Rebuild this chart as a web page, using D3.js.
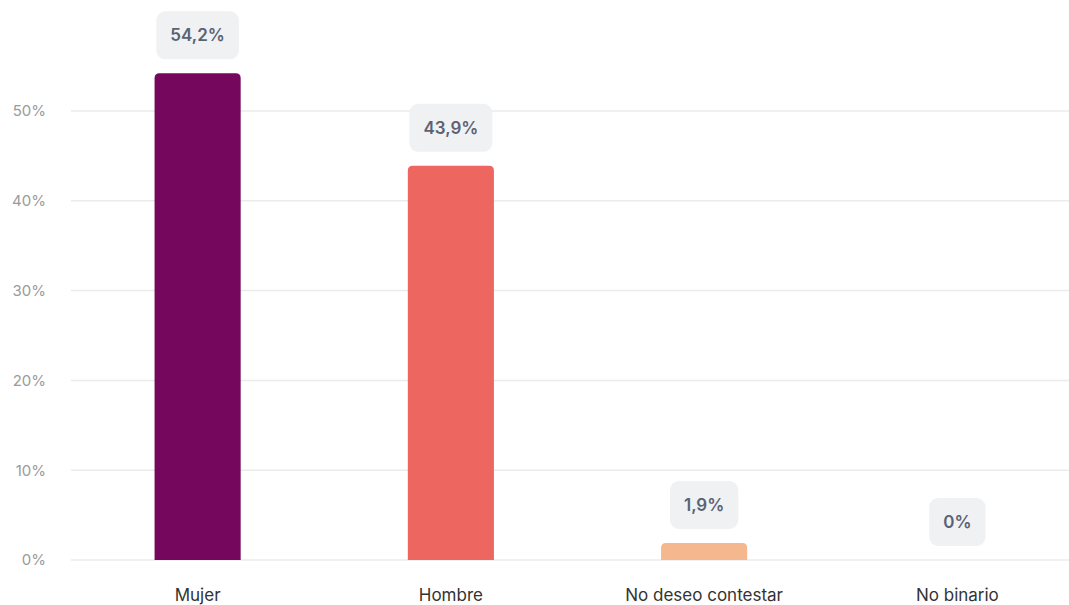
<!DOCTYPE html>
<html>
<head>
<meta charset="utf-8">
<script src="https://cdn.jsdelivr.net/npm/d3@7"></script>
<style>
  body { margin: 0; background: #fff; }
  svg { display: block; font-family: Inter, "Noto Sans", sans-serif; }
</style>
</head>
<body>
<script>
var categories = ["Mujer", "Hombre", "No deseo contestar", "No binario"];
var values = [54.2, 43.9, 1.9, 0];
var valueLabels = ["54,2%", "43,9%", "1,9%", "0%"];
var colors = ["#75085c", "#ee6660", "#f5b78e", "#dddddd"];
var yTicks = [0, 10, 20, 30, 40, 50];

var width = 1069, height = 605;
var margin = {top: 20, right: -15, bottom: 45, left: 71};

var svg = d3.select("body").append("svg")
	.attr("width", width)
	.attr("height", height);

var x = d3.scaleBand()
	.domain(categories)
	.range([margin.left, width - margin.right])
	.paddingInner(0.66)
	.paddingOuter(0.33);

var y = d3.scaleLinear()
	.domain([0, 60])
	.range([height - margin.bottom, height - margin.bottom - 60 * 8.98]);

// grid
svg.append("g")
	.selectAll("line")
	.data(yTicks)
	.enter().append("line")
	.attr("x1", margin.left)
	.attr("x2", width)
	.attr("y1", function(d) { return y(d); })
	.attr("y2", function(d) { return y(d); })
	.attr("stroke", "#ebebeb")
	.attr("stroke-width", 1.5);

var yAxis = d3.axisLeft(y)
	.tickValues(yTicks)
	.tickSize(0)
	.tickPadding(25)
	.tickFormat(function(d) { return d + "%"; });

var gy = svg.append("g")
	.attr("transform", "translate(" + margin.left + ",0)")
	.call(yAxis);
gy.select(".domain").remove();
gy.selectAll("text")
	.attr("fill", "#9a9a9a")
	.style("font-size", "15px")
	.style("font-family", "Inter, sans-serif");

// bars with rounded tops
function barPath(x0, y0, w, h, r) {
	r = Math.min(r, h, w / 2);
	return "M" + x0 + "," + (y0 + h) +
		"V" + (y0 + r) +
		"Q" + x0 + "," + y0 + " " + (x0 + r) + "," + y0 +
		"H" + (x0 + w - r) +
		"Q" + (x0 + w) + "," + y0 + " " + (x0 + w) + "," + (y0 + r) +
		"V" + (y0 + h) + "Z";
}

svg.append("g")
	.selectAll("path")
	.data(values)
	.enter().append("path")
	.filter(function(d) { return d > 0; })
	.attr("fill", function(d, i) { return colors[values.indexOf(d)]; })
	.attr("d", function(d) {
		var i = values.indexOf(d);
		return barPath(x(categories[i]), y(d), x.bandwidth(), y(0) - y(d), 5);
	});

// value labels in pills
var labels = svg.append("g")
	.selectAll("g")
	.data(values)
	.enter().append("g")
	.attr("transform", function(d, i) {
		return "translate(" + (x(categories[i]) + x.bandwidth() / 2) + "," + (y(d) - 38) + ")";
	});

labels.append("text")
	.attr("text-anchor", "middle")
	.attr("dy", "0.36em")
	.attr("fill", "#5b6275")
	.style("font-size", "17px")
	.style("font-weight", 600)
	.text(function(d, i) { return valueLabels[i]; });

labels.each(function() {
	var g = d3.select(this);
	var bb = g.select("text").node().getBBox();
	g.insert("rect", "text")
		.attr("x", -bb.width / 2 - 14)
		.attr("y", -24)
		.attr("width", bb.width + 28)
		.attr("height", 48)
		.attr("rx", 9)
		.attr("fill", "#eff1f3");
});

// category labels
svg.append("g")
	.selectAll("text")
	.data(categories)
	.enter().append("text")
	.attr("x", function(d) { return x(d) + x.bandwidth() / 2; })
	.attr("y", 601)
	.attr("text-anchor", "middle")
	.attr("fill", "#333")
	.style("font-size", "17px")
	.text(function(d) { return d; });
</script>
</body>
</html>
